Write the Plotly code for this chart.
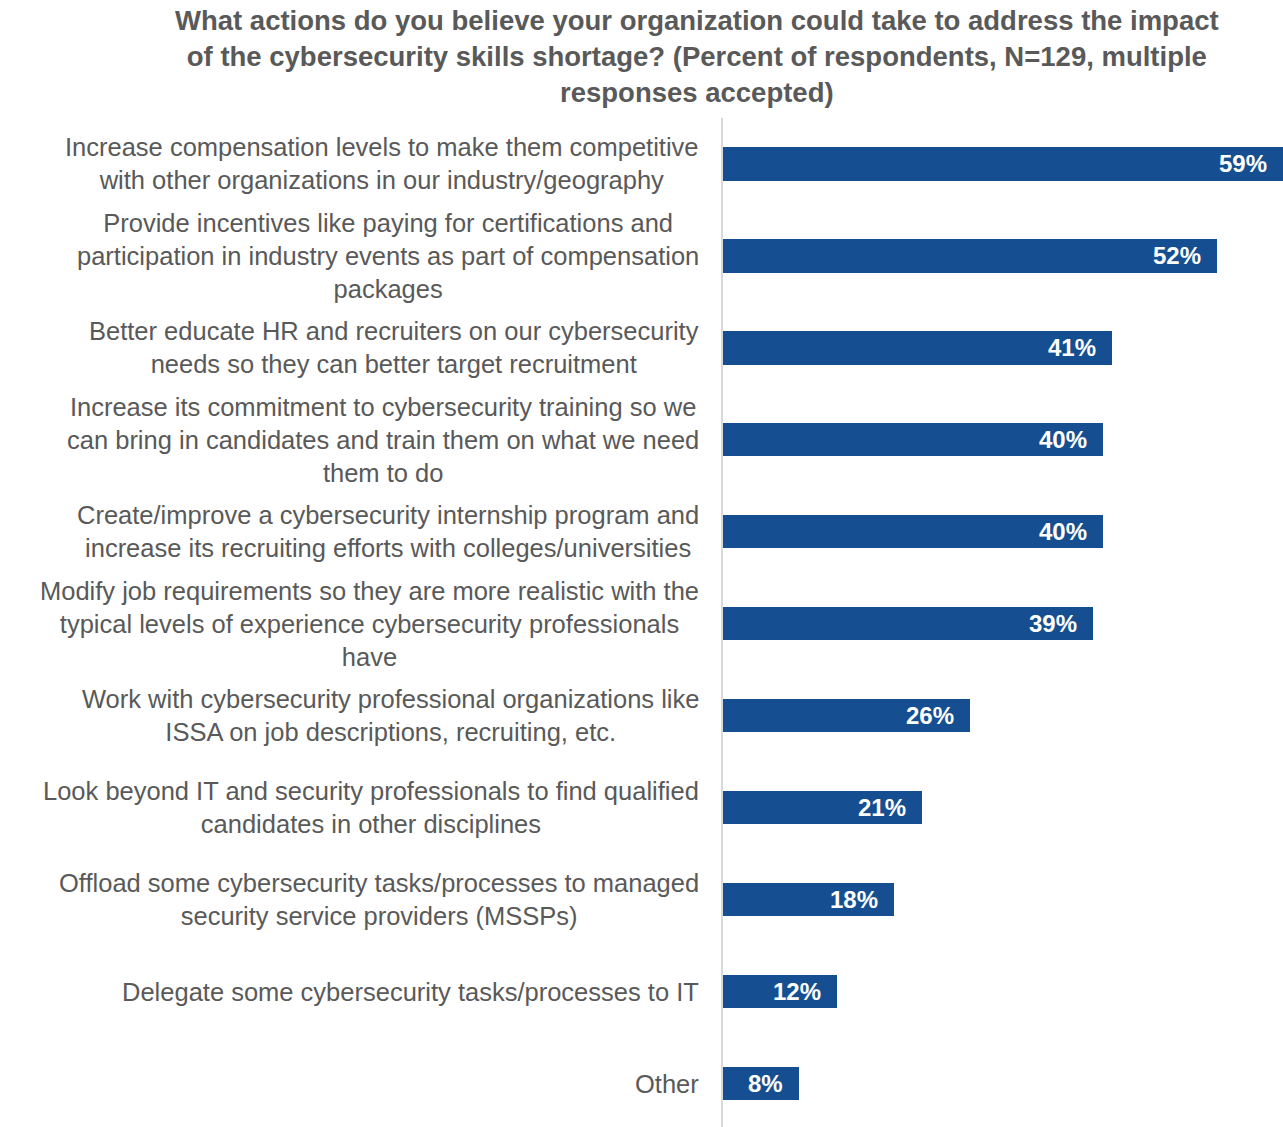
import plotly.graph_objects as go

# Survey answers (label lines joined with <br>) and share of respondents, %
actions = [
    "Increase compensation levels to make them competitive<br>with other organizations in our industry/geography",
    "Provide incentives like paying for certifications and<br>participation in industry events as part of compensation<br>packages",
    "Better educate HR and recruiters on our cybersecurity<br>needs so they can better target recruitment",
    "Increase its commitment to cybersecurity training so we<br>can bring in candidates and train them on what we need<br>them to do",
    "Create/improve a cybersecurity internship program and<br>increase its recruiting efforts with colleges/universities",
    "Modify job requirements so they are more realistic with the<br>typical levels of experience cybersecurity professionals<br>have",
    "Work with cybersecurity professional organizations like<br>ISSA on job descriptions, recruiting, etc.",
    "Look beyond IT and security professionals to find qualified<br>candidates in other disciplines",
    "Offload some cybersecurity tasks/processes to managed<br>security service providers (MSSPs)",
    "Delegate some cybersecurity tasks/processes to IT",
    "Other",
]
percent = [59, 52, 41, 40, 40, 39, 26, 21, 18, 12, 8]

title_text = (
    "What actions do you believe your organization could take to address the impact<br>"
    "of the cybersecurity skills shortage? (Percent of respondents, N=129, multiple<br>"
    "responses accepted)"
)

FONT = "Liberation Sans, Arial, sans-serif"
GREY = "#595959"
BLUE = "#164F91"

W, H = 1283, 1127
LEFT, TOP = 723, 118
PLOT_W = W - LEFT
TITLE_CX = 696.5  # horizontal centre of the title block, px

idx = list(range(len(actions)))

fig = go.Figure(
    go.Bar(
        x=percent,
        y=idx,
        orientation="h",
        width=0.36,
        marker=dict(color=BLUE, line=dict(width=0)),
        hoverinfo="skip",
    )
)

annotations = []
# category labels, centred lines, right edge just left of the axis line
for i, label in enumerate(actions):
    annotations.append(dict(
        x=0, y=i, xref="x", yref="y",
        text=label, showarrow=False,
        xanchor="right", yanchor="middle", align="center",
        xshift=-22,
        font=dict(family=FONT, size=25.5, color=GREY),
    ))
# value labels inside the bar ends
for i, v in enumerate(percent):
    annotations.append(dict(
        x=v, y=i, xref="x", yref="y",
        text=f"{v}%", showarrow=False,
        xanchor="right", yanchor="middle",
        xshift=-14,
        font=dict(family=FONT, size=24, color="white", weight="bold"),
    ))
# chart title (paper x is measured across the plot area)
annotations.append(dict(
    x=(TITLE_CX - LEFT) / PLOT_W, y=1, xref="paper", yref="paper",
    yanchor="bottom", xanchor="center", align="center",
    yshift=8,
    text=title_text, showarrow=False,
    font=dict(family=FONT, size=27.5, color=GREY, weight="bold"),
))

fig.update_layout(
    width=W, height=H,
    margin=dict(l=LEFT, r=0, t=TOP, b=0, pad=0),
    paper_bgcolor="white", plot_bgcolor="white",
    showlegend=False,
    annotations=annotations,
    xaxis=dict(visible=False, range=[0, 59], fixedrange=True),
    yaxis=dict(
        range=[len(actions) - 0.53, -0.5],
        showticklabels=False, showgrid=False, zeroline=False,
        showline=True, linecolor="#D9D9D9", linewidth=2,
        ticks="", fixedrange=True,
    ),
    bargap=0,
)

fig.write_html("out.html", config={"displayModeBar": False})
